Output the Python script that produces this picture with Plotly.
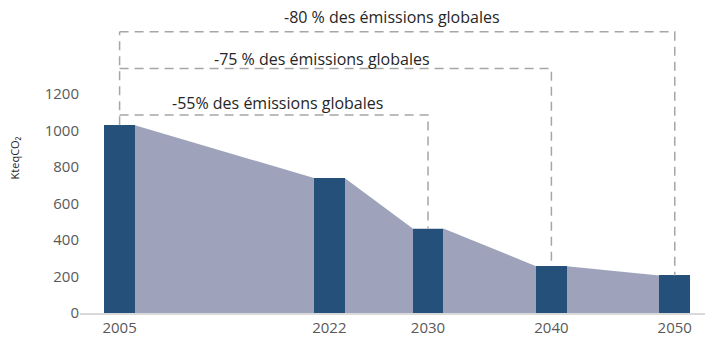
import plotly.graph_objects as go

# Emissions (ktCO2e) for the reference year and the target years
years = [2005, 2022, 2030, 2040, 2050]
emissions = [1030, 740, 463, 257, 206]
tick_labels = ["2005", "2022", "2030", "2040", "2050"]
y_ticks = [0, 200, 400, 600, 800, 1000, 1200]

# Reduction targets, relative to 2005
targets = [
    {"year": 2030, "label": "-55% des émissions globales", "level": 1086, "text_x": 2017.8, "text_y": 1151},
    {"year": 2040, "label": "-75 % des émissions globales", "level": 1341, "text_x": 2021.4, "text_y": 1395},
    {"year": 2050, "label": "-80 % des émissions globales", "level": 1542, "text_x": 2027.1, "text_y": 1623},
]

BAR_W = 2.48
BAR_COLOR = "#24507A"
AREA_COLOR = "#9EA3BB"
DASH_COLOR = "#A6A6A6"
TEXT_COLOR = "#595959"
FONT = "Open Sans"
X_RANGE = [2001.79, 2052.45]
Y_RANGE = [0, 1700]

# Shaded trajectory joining the bar tops
area_x, area_y = [], []
for yr, v in zip(years, emissions):
    area_x += [yr - BAR_W / 2, yr + BAR_W / 2]
    area_y += [v, v]

fig = go.Figure()
fig.add_trace(go.Scatter(
    x=area_x, y=area_y, mode="lines", fill="tozeroy",
    fillcolor=AREA_COLOR, line=dict(width=0), hoverinfo="skip", showlegend=False,
))
# Bars sit on an overlaid axis pair so they are painted above the area
fig.add_trace(go.Bar(
    x=years, y=emissions, width=BAR_W, marker=dict(color=BAR_COLOR, line=dict(width=0)),
    showlegend=False, xaxis="x2", yaxis="y2",
))

# Dashed brackets from 2005 to each target year
base_year, base_val = years[0], emissions[0]
top_level = max(t["level"] for t in targets)
dash = dict(color=DASH_COLOR, width=1.5, dash="9px,6px")
fig.add_shape(type="line", x0=base_year, x1=base_year, y0=base_val, y1=top_level,
              xref="x", yref="y", line=dash, layer="above")
for t in targets:
    end_val = emissions[years.index(t["year"])]
    fig.add_shape(type="path",
                  path=f"M {base_year},{t['level']} L {t['year']},{t['level']} L {t['year']},{end_val}",
                  xref="x", yref="y", line=dash, layer="above")
    fig.add_annotation(x=t["text_x"], y=t["text_y"], xref="x", yref="y", text=t["label"],
                       showarrow=False, font=dict(family=FONT, size=16, color="#262626"))

fig.update_layout(
    width=710, height=340,
    margin=dict(l=80, r=5, t=3, b=24),
    plot_bgcolor="white", paper_bgcolor="white",
    bargap=0,
    font=dict(family=FONT, color=TEXT_COLOR),
    xaxis=dict(
        range=X_RANGE, tickvals=years, ticktext=tick_labels,
        showgrid=False, zeroline=False, showline=True, linecolor="#D9D9D9", linewidth=1.5,
        ticks="", tickfont=dict(size=15, color=TEXT_COLOR),
    ),
    yaxis=dict(
        range=Y_RANGE, tickvals=y_ticks, showgrid=False, zeroline=False, showline=False,
        ticks="", tickfont=dict(size=15, color=TEXT_COLOR),
        title=dict(text="KteqCO₂", font=dict(size=11, color="#262626"), standoff=22),
    ),
    xaxis2=dict(range=X_RANGE, overlaying="x", visible=False),
    yaxis2=dict(range=Y_RANGE, overlaying="y", visible=False),
)

fig.write_html("out.html")
